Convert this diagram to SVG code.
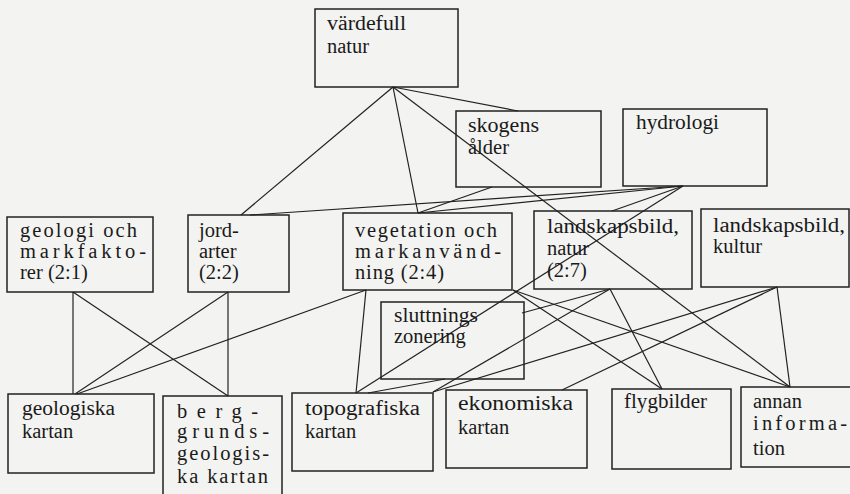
<svg xmlns="http://www.w3.org/2000/svg" width="850" height="494" viewBox="0 0 850 494">
<style>
.box{fill:none;stroke:#222;stroke-width:1.5}
.t{font-family:"Liberation Serif","Times New Roman","DejaVu Serif",serif;font-size:20.5px;fill:#1a1a1a}
.c line{stroke:#222;stroke-width:1.2}
</style>
<rect x="0" y="0" width="850" height="494" fill="#f3f3f1"/>
<g class="c" id="connectors">
<line x1="393" y1="87" x2="241" y2="215"/>
<line x1="393" y1="87" x2="418" y2="213"/>
<line x1="393" y1="87" x2="518" y2="111"/>
<line x1="393" y1="87" x2="790" y2="387"/>
<line x1="492" y1="187" x2="418" y2="213"/>
<line x1="683" y1="186" x2="250" y2="215"/>
<line x1="683" y1="186" x2="418" y2="213"/>
<line x1="683" y1="186" x2="612" y2="211"/>
<line x1="683" y1="186" x2="356" y2="393"/>
<line x1="73" y1="292" x2="73" y2="394"/>
<line x1="73" y1="292" x2="228" y2="396"/>
<line x1="228" y1="292" x2="228" y2="396"/>
<line x1="228" y1="292" x2="75" y2="394"/>
<line x1="366" y1="290" x2="77" y2="394"/>
<line x1="366" y1="290" x2="356" y2="393"/>
<line x1="513" y1="290" x2="662" y2="389"/>
<line x1="513" y1="290" x2="790" y2="387"/>
<line x1="610" y1="289" x2="522" y2="313"/>
<line x1="610" y1="289" x2="662" y2="389"/>
<line x1="610" y1="289" x2="433" y2="392"/>
<line x1="777" y1="287" x2="790" y2="387"/>
<line x1="777" y1="287" x2="433" y2="392"/>
<line x1="777" y1="287" x2="562" y2="390"/>
<line x1="368" y1="393" x2="445" y2="379"/>
</g>
<g id="n_vardefull"><rect class="box" x="315" y="9" width="143" height="78"/><text class="t" x="327" y="30" textLength="79" lengthAdjust="spacingAndGlyphs">värdefull</text><text class="t" x="327" y="53">natur</text></g>
<g id="n_skogens"><rect class="box" x="456" y="111" width="145" height="76"/><text class="t" x="468" y="132" textLength="71" lengthAdjust="spacingAndGlyphs">skogens</text><text class="t" x="468" y="154">ålder</text></g>
<g id="n_hydrologi"><rect class="box" x="623" y="109" width="144" height="77"/><text class="t" x="636" y="129" textLength="83" lengthAdjust="spacingAndGlyphs">hydrologi</text></g>
<g id="n_geologi"><rect class="box" x="7" y="217" width="146" height="75"/><text class="t" x="20" y="237" textLength="117" lengthAdjust="spacing">geologi och</text><text class="t" x="20" y="258" textLength="126" lengthAdjust="spacing">markfakto-</text><text class="t" x="20" y="279">rer (2:1)</text></g>
<g id="n_jordarter"><rect class="box" x="188" y="215" width="101" height="77"/><text class="t" x="199" y="237">jord-</text><text class="t" x="199" y="258">arter</text><text class="t" x="199" y="279">(2:2)</text></g>
<g id="n_vegetation"><rect class="box" x="343" y="213" width="169" height="77"/><text class="t" x="355" y="237" textLength="142" lengthAdjust="spacing">vegetation och</text><text class="t" x="355" y="258" textLength="146" lengthAdjust="spacing">markanvänd-</text><text class="t" x="355" y="279" textLength="89" lengthAdjust="spacing">ning (2:4)</text></g>
<g id="n_landnatur"><rect class="box" x="534" y="211" width="158" height="78"/><text class="t" x="547" y="233" textLength="132" lengthAdjust="spacingAndGlyphs">landskapsbild,</text><text class="t" x="547" y="255">natur</text><text class="t" x="547" y="277">(2:7)</text></g>
<g id="n_landkultur"><rect class="box" x="701" y="209" width="148" height="78"/><text class="t" x="713" y="232" textLength="132" lengthAdjust="spacingAndGlyphs">landskapsbild,</text><text class="t" x="713" y="253">kultur</text></g>
<g id="n_sluttnings"><rect class="box" x="381" y="302" width="143" height="77"/><text class="t" x="394" y="322" textLength="84" lengthAdjust="spacingAndGlyphs">sluttnings</text><text class="t" x="394" y="343">zonering</text></g>
<g id="n_geologiska"><rect class="box" x="8" y="394" width="146" height="79"/><text class="t" x="22" y="415" textLength="93" lengthAdjust="spacingAndGlyphs">geologiska</text><text class="t" x="22" y="438">kartan</text></g>
<g id="n_berg"><rect class="box" x="163" y="396" width="119" height="110"/><text class="t" x="177" y="418" textLength="81" lengthAdjust="spacing">berg-</text><text class="t" x="177" y="438" textLength="92" lengthAdjust="spacing">grunds-</text><text class="t" x="177" y="460" textLength="92" lengthAdjust="spacing">geologis-</text><text class="t" x="177" y="483" textLength="91" lengthAdjust="spacing">ka kartan</text></g>
<g id="n_topo"><rect class="box" x="292" y="393" width="141" height="78"/><text class="t" x="305" y="415" textLength="115" lengthAdjust="spacingAndGlyphs">topografiska</text><text class="t" x="305" y="438">kartan</text></g>
<g id="n_ekonomiska"><rect class="box" x="446" y="390" width="141" height="78"/><text class="t" x="458" y="410" textLength="115" lengthAdjust="spacingAndGlyphs">ekonomiska</text><text class="t" x="458" y="434">kartan</text></g>
<g id="n_flyg"><rect class="box" x="612" y="389" width="119" height="80"/><text class="t" x="624" y="408" textLength="83" lengthAdjust="spacingAndGlyphs">flygbilder</text></g>
<g id="n_annan"><rect class="box" x="741" y="387" width="112" height="80"/><text class="t" x="753" y="408">annan</text><text class="t" x="753" y="430" textLength="94" lengthAdjust="spacing">informa-</text><text class="t" x="753" y="455">tion</text></g>
</svg>
